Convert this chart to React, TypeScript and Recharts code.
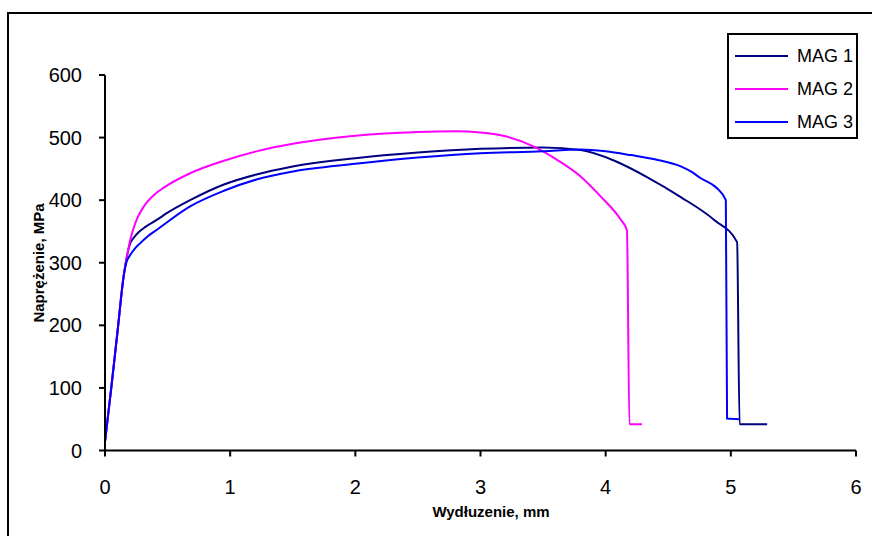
import { LineChart, Line, XAxis, YAxis, Label } from "recharts";

// wydłużenie [mm] / naprężenie [MPa]
const mag1X = [0, 0.05, 0.1, 0.15, 0.18, 0.2, 0.23, 0.27, 0.32, 0.41, 0.5, 0.68, 0.95, 1.21, 1.48, 2.0, 2.5, 3.0, 3.5, 3.8, 4.07, 4.33, 4.6, 4.87, 5.05, 5.07, 5.29];
const mag1Y = [14, 100, 190, 280, 315, 330, 340, 349, 357, 368, 380, 400, 425, 441, 453, 467, 476, 482, 484, 480, 463, 437, 405, 368, 333, 42, 42];

const mag2X = [0, 0.05, 0.1, 0.15, 0.18, 0.2, 0.22, 0.26, 0.31, 0.4, 0.47, 0.68, 0.95, 1.21, 1.5, 2.0, 2.5, 2.8, 3.0, 3.2, 3.4, 3.6, 3.8, 3.96, 4.12, 4.17, 4.19, 4.29];
const mag2Y = [14, 100, 190, 280, 315, 335, 350, 372, 390, 410, 420, 443, 463, 478, 490, 503, 509, 510, 508, 502, 488, 466, 438, 406, 369, 352, 42, 42];

const mag3X = [0, 0.05, 0.1, 0.15, 0.17, 0.2, 0.24, 0.28, 0.34, 0.41, 0.68, 0.95, 1.21, 1.48, 2.0, 2.5, 3.0, 3.5, 3.8, 4.0, 4.2, 4.4, 4.6, 4.68, 4.76, 4.89, 4.96, 4.97, 5.07];
const mag3Y = [14, 100, 190, 280, 300, 312, 323, 331, 342, 352, 390, 415, 433, 445, 458, 468, 475, 478, 481, 478, 472, 465, 454, 446, 435, 419, 400, 51, 50];

const xTicks = [0, 1, 2, 3, 4, 5, 6];
const yTicks = [0, 100, 200, 300, 400, 500, 600];

const seriesNames = ["MAG 1", "MAG 2", "MAG 3"];
const seriesColors = ["#000080", "#FF00FF", "#0000FF"];

const toPoints = (xs: number[], ys: number[]) => xs.map((x, i) => ({ x, y: ys[i] }));
const series = [toPoints(mag1X, mag1Y), toPoints(mag2X, mag2Y), toPoints(mag3X, mag3Y)];

const font = "Arial, 'Liberation Sans', sans-serif";

function XTick(props: any) {
    const { x, y, payload } = props;
    return (
        <text x={x} y={y} dy={23.5} textAnchor="middle" fontFamily={font} fontSize={20} fill="#000">
            {payload.value}
        </text>
    );
}

function YTick(props: any) {
    const { x, y, payload } = props;
    return (
        <text x={x} y={y} dy={7} textAnchor="end" fontFamily={font} fontSize={20} fill="#000">
            {payload.value}
        </text>
    );
}

function LegendBox() {
    return (
        <div
            style={{
                position: "absolute",
                left: 727,
                top: 33,
                width: 127,
                height: 102,
                border: "2px solid #000",
                background: "#fff",
                fontFamily: font,
                fontSize: 18,
            }}
        >
            {seriesNames.map((name, i) => (
                <div key={name} style={{ position: "absolute", left: 0, top: 10 + i * 33, height: 22, width: 127 }}>
                    <div style={{ position: "absolute", left: 6, top: 10, width: 53, height: 2, background: seriesColors[i] }} />
                    <span style={{ position: "absolute", left: 68, top: 0, lineHeight: "22px", color: "#000", whiteSpace: "nowrap" }}>
                        {name}
                    </span>
                </div>
            ))}
        </div>
    );
}

export default function App() {
    return (
        <div style={{ position: "absolute", left: 0, top: 0, width: 872, height: 536, background: "#fff", overflow: "hidden" }}>
            <div
                style={{
                    position: "absolute",
                    left: 7,
                    top: 12,
                    width: 880,
                    height: 540,
                    border: "2px solid #000",
                }}
            />
            <div style={{ position: "absolute", left: 0, top: 0 }}>
                <LineChart width={872} height={536} margin={{ top: 75, right: 16, bottom: 45.5, left: 65 }}>
                    <XAxis
                        dataKey="x"
                        type="number"
                        domain={[0, 6]}
                        ticks={xTicks}
                        height={40}
                        stroke="#000"
                        strokeWidth={2}
                        tickSize={6}
                        tickMargin={14}
                        tick={<XTick />}
                        allowDataOverflow
                    >
                        <Label
                            content={() => (
                                <text x={491} y={517} textAnchor="middle" fontFamily={font} fontSize={15} fontWeight="bold" fill="#000">
                                    Wydłuzenie, mm
                                </text>
                            )}
                        />
                    </XAxis>
                    <YAxis
                        type="number"
                        domain={[0, 600]}
                        ticks={yTicks}
                        width={40}
                        stroke="#000"
                        strokeWidth={2}
                        tickSize={6}
                        tickMargin={17}
                        tick={<YTick />}
                        allowDataOverflow
                    >
                        <Label
                            content={() => (
                                <text
                                    x={38}
                                    y={263}
                                    transform="rotate(-90 38 263)"
                                    textAnchor="middle"
                                    dominantBaseline="central"
                                    fontFamily={font}
                                    fontSize={15}
                                    fontWeight="bold"
                                    fill="#000"
                                >
                                    Naprężenie, MPa
                                </text>
                            )}
                        />
                    </YAxis>
                    {series.map((data, i) => (
                        <Line
                            key={seriesNames[i]}
                            data={data}
                            dataKey="y"
                            name={seriesNames[i]}
                            type="monotone"
                            stroke={seriesColors[i]}
                            strokeWidth={2}
                            dot={false}
                            isAnimationActive={false}
                        />
                    ))}
                </LineChart>
            </div>
            <LegendBox />
        </div>
    );
}
